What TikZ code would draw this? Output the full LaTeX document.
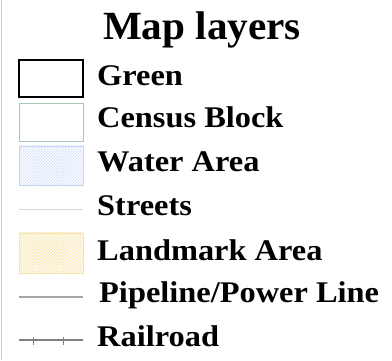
\documentclass[tikz,border=0pt]{standalone}
\usepackage{fontspec}
\setmainfont{Liberation Serif}
\newfontfamily\labelfont[FakeStretch=1.08]{Liberation Serif}
\newfontfamily\titlefont[FakeStretch=1.03]{Liberation Serif}
\usetikzlibrary{patterns}

\definecolor{censusgreen}{HTML}{A8C8B0}
\definecolor{waterblue}{HTML}{C4D6F6}
\definecolor{landyellow}{HTML}{F6E4A8}
\definecolor{streetgray}{HTML}{D8D8D8}
\definecolor{pipegray}{HTML}{A4A4A4}
\definecolor{railgray}{HTML}{808080}

\begin{document}
\begin{tikzpicture}[x=1pt, y=-1pt,
    label/.style={anchor=base west, inner sep=0pt, font=\labelfont\fontsize{30}{30}\selectfont\bfseries},
    swatch/.style={line width=0.8pt}]

    % constants
    \def\xa{19}
    \def\xb{83}
    \def\xt{97}

    \useasboundingbox (0,0) rectangle (392,361);

    % frame edge
    \draw[color=gray!40, line width=0.8pt] (1.5,0) -- (1.5,360);

    % title
    \node [anchor=base, inner sep=0pt, font=\titlefont\fontsize{40}{40}\selectfont\bfseries] (title) at (202,40) {Map layers};

    % Green
    \draw[line width=1.8pt] (\xa,60) rectangle (\xb,97);
    \node [label] (green) at (\xt,86) {Green};

    % Census Block
    \draw[swatch, color=censusgreen] (\xa,103) rectangle (\xb,141);
    \node [label] (census) at (\xt,128) {Census Block};

    % Water Area
    \fill[pattern=crosshatch, pattern color=waterblue!60] (\xa,146) rectangle (\xb,185);
    \fill[pattern=crosshatch dots, pattern color=waterblue!70] (34,155) rectangle (68,177);
    \draw[swatch, color=waterblue] (\xa,146) rectangle (\xb,185);
    \node [label] (water) at (\xt,172) {Water Area};

    % Streets
    \draw[color=streetgray, line width=0.6pt] (\xa,209) -- (\xb,209);
    \node [label] (streets) at (\xt,216) {Streets};

    % Landmark Area
    \fill[pattern=crosshatch, pattern color=landyellow!80] (\xa,233) rectangle (\xb,273);
    \fill[pattern=crosshatch dots, pattern color=landyellow] (34,242) rectangle (68,265);
    \draw[swatch, color=landyellow] (\xa,233) rectangle (\xb,273);
    \node [label] (landmark) at (\xt,261) {Landmark Area};

    % Pipeline/Power Line
    \draw[color=pipegray, line width=1.2pt] (\xa,297) -- (\xb,297);
    \node [label] (pipeline) at (99,303) {Pipeline/Power Line};

    % Railroad
    \draw[color=railgray, line width=1.6pt] (\xa,340) -- (\xb,340);
    \draw[color=railgray, line width=0.8pt] (33,337) -- (33,345);
    \draw[color=railgray, line width=0.8pt] (63,337) -- (63,345);
    \node [label] (railroad) at (\xt,347) {Railroad};

\end{tikzpicture}
\end{document}
